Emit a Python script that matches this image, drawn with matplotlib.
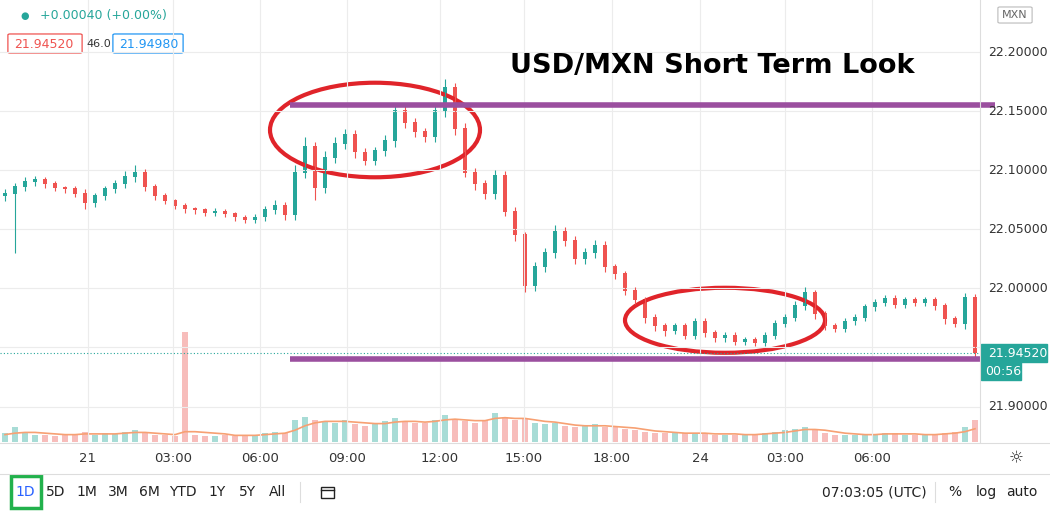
import numpy as np
import matplotlib
matplotlib.use("Agg")
import matplotlib.pyplot as plt
from matplotlib.patches import Ellipse, Rectangle, FancyBboxPatch

closes = [22.080,22.086,22.090,22.092,22.088,22.085,22.084,22.080,22.072,22.078,
          22.084,22.088,22.094,22.098,22.086,22.078,22.074,22.070,22.067,22.066,
          22.064,22.065,22.063,22.060,22.058,22.060,22.066,22.070,22.062,22.098,
          22.120,22.085,22.110,22.122,22.130,22.115,22.108,22.116,22.125,22.150,
          22.140,22.132,22.128,22.150,22.170,22.135,22.098,22.088,22.080,22.095,
          22.065,22.045,22.002,22.018,22.030,22.048,22.040,22.025,22.030,22.036,
          22.018,22.012,21.998,21.990,21.975,21.968,21.964,21.968,21.960,21.972,
          21.962,21.958,21.960,21.955,21.956,21.954,21.960,21.970,21.975,21.985,
          21.996,21.978,21.968,21.966,21.972,21.975,21.984,21.988,21.991,21.986,
          21.990,21.988,21.990,21.985,21.974,21.970,21.992,21.945]
first_open = 22.078
upper_wick = [0.004,0.003,0.004,0.003,0.002,0.003,0.002,0.003,0.004,0.003,
              0.003,0.004,0.005,0.006,0.003,0.002,0.003,0.002,0.002,0.002,
              0.002,0.003,0.002,0.002,0.002,0.003,0.004,0.005,0.003,0.006,
              0.008,0.004,0.006,0.006,0.005,0.004,0.004,0.004,0.005,0.006,
              0.004,0.004,0.004,0.006,0.007,0.004,0.005,0.004,0.004,0.005,
              0.004,0.004,0.003,0.004,0.004,0.006,0.004,0.004,0.004,0.005,
              0.004,0.003,0.003,0.003,0.003,0.003,0.003,0.003,0.003,0.003,
              0.003,0.003,0.003,0.003,0.003,0.003,0.003,0.003,0.003,0.004,
              0.005,0.003,0.003,0.003,0.003,0.003,0.003,0.003,0.003,0.003,
              0.003,0.003,0.003,0.003,0.003,0.003,0.004,0.003]
lower_wick = [0.004,0.050,0.004,0.003,0.003,0.003,0.003,0.003,0.005,0.003,
              0.003,0.003,0.003,0.004,0.004,0.003,0.003,0.003,0.003,0.003,
              0.003,0.003,0.003,0.003,0.003,0.003,0.003,0.003,0.004,0.004,
              0.005,0.010,0.004,0.004,0.004,0.005,0.004,0.004,0.004,0.005,
              0.004,0.004,0.004,0.004,0.005,0.005,0.004,0.005,0.004,0.004,
              0.004,0.005,0.005,0.004,0.004,0.004,0.004,0.004,0.004,0.004,
              0.004,0.004,0.004,0.003,0.004,0.004,0.004,0.003,0.003,0.003,
              0.003,0.003,0.003,0.003,0.003,0.003,0.003,0.003,0.003,0.003,
              0.003,0.004,0.003,0.003,0.003,0.003,0.003,0.003,0.003,0.003,
              0.003,0.003,0.003,0.003,0.004,0.003,0.004,0.004]
volumes = [12,20,14,10,9,8,9,10,14,10,
           12,11,14,16,12,10,9,8,150,9,
           8,8,9,8,9,10,12,14,12,30,
           34,30,28,26,30,24,22,24,28,32,
           28,26,26,30,36,30,28,26,30,40,
           34,30,32,26,24,26,22,20,22,24,
           20,20,18,16,14,12,12,12,12,12,
           12,10,10,10,11,10,12,14,16,18,
           20,16,12,10,10,10,10,10,12,12,
           10,10,10,10,12,14,20,30]
vol_ma = [10,12,13,13,12,11,10,10,11,11,
          11,11,12,13,13,12,11,10,14,14,
          13,12,11,9,9,9,10,11,12,16,
          22,26,28,28,28,27,26,25,25,27,
          28,28,27,28,30,31,30,29,29,32,
          33,32,32,30,28,27,25,23,22,22,
          22,21,20,19,17,15,14,13,12,12,
          12,11,11,11,10,10,11,12,13,15,
          17,17,16,14,12,11,10,10,11,11,
          11,11,10,10,11,12,14,18]
time_ticks = [8.3, 16.8, 25.5, 34.2, 43.5, 51.9, 60.7, 69.5, 78.0, 86.7]
time_labels = ["21","03:00","06:00","09:00","12:00","15:00","18:00","24","03:00","06:00"]
price_ticks = [21.90, 21.95, 22.00, 22.05, 22.10, 22.15, 22.20]
resistance = 22.155
support = 21.940
last_price = 21.9452

UP, DN = "#26a69a", "#ef5350"
W, H = 1050, 512
fig = plt.figure(figsize=(10.5, 5.12), dpi=100)
fx = lambda p: p / W
fy = lambda p: 1 - p / H

ax = fig.add_axes([0, fy(442), fx(980), fy(0) - fy(442)])
n = len(closes)
x = np.arange(n)
c = np.array(closes)
o = np.concatenate([[first_open], c[:-1]])
hi = np.maximum(o, c) + np.array(upper_wick)
lo = np.minimum(o, c) - np.array(lower_wick)
col = np.where(c >= o, UP, DN)

axv = ax.twinx()
axv.set_ylim(0, 600)
vcol = np.where(c >= o, "#a8dcd6", "#f7bdbb")
axv.bar(x, volumes, width=0.6, color=vcol, zorder=1)
axv.plot(x, vol_ma, color="#f7a072", lw=1.2)
axv.axis("off")

ax.set_zorder(axv.get_zorder() + 1)
ax.patch.set_visible(False)
ax.vlines(x, lo, hi, colors=col, lw=0.8)
ax.bar(x, np.abs(c - o) + 0.0008, bottom=np.minimum(o, c), width=0.42, color=col)

ax.set_xlim(-0.5, n - 0.5)
ax.set_ylim(21.870, 22.244)
ax.set_xticks(time_ticks)
ax.set_xticklabels([])
ax.set_yticks(price_ticks)
ax.set_yticklabels([])
ax.tick_params(length=0)
ax.grid(True, color="#ececec", lw=0.8)
for s in ax.spines.values():
    s.set_visible(False)

ax.axhline(last_price, color="#26a69a", lw=0.8, ls=(0, (1, 2)))
ax.plot([28.5, n + 1], [resistance, resistance], color="#9b4f9f", lw=4, solid_capstyle="butt", clip_on=False)
ax.plot([28.5, n - 0.5], [support, support], color="#9b4f9f", lw=4, solid_capstyle="butt")
ax.add_patch(Ellipse((37, 22.134), 21, 0.080, fill=False, ec="#e0242a", lw=3))
ax.add_patch(Ellipse((72, 21.973), 20, 0.055, fill=False, ec="#e0242a", lw=3))
ax.text(50.5, 22.188, "USD/MXN Short Term Look", fontsize=19.5, fontweight="bold", va="center", color="black")

for p in price_ticks:
    if abs(p - last_price) < 0.01:
        continue
    yp = ax.transData.transform((0, p))[1] / H
    fig.text(fx(988), yp, f"{p:.5f}", fontsize=9, color="#333", va="center")
fig.add_artist(plt.Line2D([fx(980), fx(980)], [fy(0), fy(442)], color="#ddd", lw=0.8))
ylp = ax.transData.transform((0, last_price))[1] / H
fig.add_artist(Rectangle((fx(981), ylp - 9 / H), fx(66), 18 / H, color="#26a69a"))
fig.text(fx(988), ylp, "21.94520", fontsize=9, color="white", va="center")
fig.add_artist(Rectangle((fx(981), ylp - 27 / H), fx(40), 18 / H, color="#26a69a"))
fig.text(fx(985), ylp - 18 / H, "00:56", fontsize=9, color="white", va="center")
fig.add_artist(FancyBboxPatch((fx(1000), fy(22)), fx(30), 14 / H, boxstyle="round,pad=0.002", fc="white", ec="#bbb", lw=0.8))
fig.text(fx(1015), fy(15), "MXN", fontsize=8, color="#666", ha="center", va="center")

for t, l in zip(time_ticks, time_labels):
    xp = ax.transData.transform((t, 0))[0] / W
    fig.text(xp, fy(458), l, fontsize=9.5, color="#333", ha="center", va="center")
fig.text(fx(1016), fy(458), "☼", fontsize=12, color="#333", ha="center", va="center")
fig.add_artist(plt.Line2D([0, 1], [fy(443), fy(443)], color="#ddd", lw=0.8))
fig.add_artist(plt.Line2D([0, 1], [fy(474), fy(474)], color="#ddd", lw=0.8))

fig.text(fx(25), fy(16), "●", fontsize=7, color="#26a69a", ha="center", va="center")
fig.text(fx(40), fy(16), "+0.00040 (+0.00%)", fontsize=9, color="#26a69a", va="center")
for x0, w, txt, ec in [(10, 70, "21.94520", "#ef5350"), (115, 66, "21.94980", "#2196f3")]:
    fig.add_artist(FancyBboxPatch((fx(x0), fy(52)), fx(w), 17 / H, boxstyle="round,pad=0.002", fc="white", ec=ec, lw=0.9))
    fig.text(fx(x0 + 4), fy(44), txt, fontsize=9, color=ec, va="center")
fig.text(fx(86), fy(44), "46.0", fontsize=8, color="#333", va="center")

for xp, l in [(25, "1D"), (56, "5D"), (87, "1M"), (118, "3M"), (149, "6M"), (183, "YTD"), (217, "1Y"), (247, "5Y"), (278, "All")]:
    fig.text(fx(xp), fy(492), l, fontsize=10, color="#2962ff" if l == "1D" else "#222", ha="center", va="center")
fig.add_artist(Rectangle((fx(11), fy(508)), fx(30), 32 / H, fill=False, ec="#22b14c", lw=2.5))
# compare icon drawn as shape
fig.add_artist(Rectangle((fx(321), fy(498)), fx(13), 11 / H, fill=False, ec="#222", lw=1))
fig.add_artist(plt.Line2D([fx(321), fx(334)], [fy(490), fy(490)], color="#222", lw=1))
fig.text(fx(874), fy(492), "07:03:05 (UTC)", fontsize=10, color="#222", ha="center", va="center")
fig.text(fx(955), fy(492), "%", fontsize=10, color="#222", ha="center", va="center")
fig.text(fx(986), fy(492), "log", fontsize=10, color="#222", ha="center", va="center")
fig.text(fx(1022), fy(492), "auto", fontsize=10, color="#222", ha="center", va="center")
for xp in [300, 935]:
    fig.add_artist(plt.Line2D([fx(xp), fx(xp)], [fy(482), fy(502)], color="#ddd", lw=0.8))

fig.savefig("out.png", dpi=100)
